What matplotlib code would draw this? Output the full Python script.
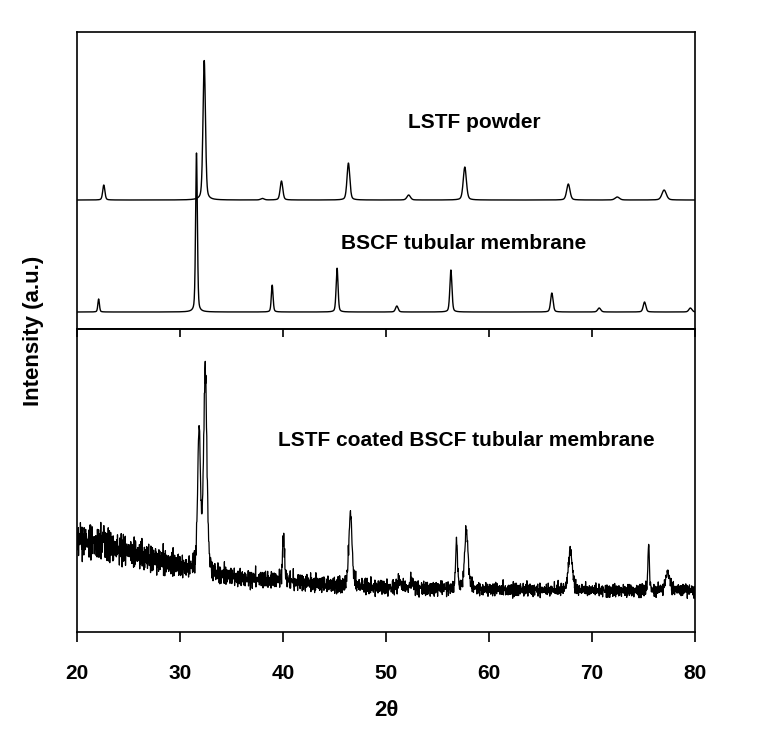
import numpy as np
import matplotlib
matplotlib.use('Agg')
import matplotlib.pyplot as plt

# 2theta grids of the scans
two_theta = np.arange(20, 80.001, 0.02)
two_theta_coat = np.arange(20, 80.001, 0.03)

# LSTF powder peaks (position, height, fwhm) - upper trace
lstf_pos = [22.6, 32.35, 38.0, 39.85, 46.35, 52.2, 57.65, 67.7, 72.45, 77.0]
lstf_height = [15, 140, 1.5, 19, 37, 5, 33, 16, 3, 10]
lstf_fwhm = [0.25, 0.28, 0.4, 0.3, 0.32, 0.4, 0.36, 0.38, 0.5, 0.5]
lstf_base = 129

# BSCF tubular membrane peaks - middle trace
bscf_pos = [22.1, 31.6, 38.95, 45.25, 51.05, 56.3, 66.1, 70.7, 75.1, 79.55]
bscf_height = [13, 159, 27, 44, 6, 42, 19, 4, 10, 4]
bscf_fwhm = [0.18, 0.2, 0.2, 0.22, 0.3, 0.24, 0.28, 0.35, 0.3, 0.35]
bscf_base = 17

# LSTF coated BSCF tubular membrane - lower trace
coat_pos = [22.6, 31.85, 32.45, 40.05, 46.55, 51.3, 52.5, 56.85, 57.8, 67.9, 75.5, 77.35]
coat_height = [18, 140, 200, 44, 74, 7, 7, 50, 58, 40, 48, 18]
coat_fwhm = [0.12, 0.32, 0.38, 0.22, 0.36, 0.3, 0.3, 0.2, 0.4, 0.45, 0.16, 0.5]
coat_bg_x = [20, 22, 25, 28, 31, 33, 36, 40, 45, 50, 55, 60, 70, 80]
coat_bg_y = [92, 88, 79, 70, 62, 57, 53, 51, 46, 44, 43, 42, 41, 41]
coat_noise_x = [20, 25, 30, 35, 40, 50, 60, 70, 80]
coat_noise_amp = [14, 12, 10, 8, 7, 6, 5.5, 5, 5]
jitter_a = [0.3, -0.8, 0.5, -0.2, 0.9, -0.6, 0.1, -0.9, 0.7, -0.4, 0.2, 0.8, -0.7, 0.4, -0.1,
            -0.5, 0.6, -0.9, 0.3, 0.0, -0.3, 0.7, -0.6, 0.9, -0.2, 0.4, -0.8, 0.1, 0.5, -0.4,
            0.8, -0.1, -0.7, 0.6, -0.3, 0.2, -0.9, 0.4, 0.7, -0.5, 0.1, -0.6, 0.9, -0.2, 0.3,
            -0.8, 0.5, 0.0, -0.4, 0.6, -0.7, 0.2, 0.8, -0.3, -0.1, 0.7, -0.9, 0.4, -0.5, 0.3,
            0.6, -0.2, -0.8, 0.5, 0.1, -0.6, 0.9, -0.4, 0.2, -0.1, 0.7, -0.7, 0.3, 0.8, -0.5,
            0.0, -0.3, 0.6, -0.9, 0.4, -0.2, 0.5, -0.6, 0.1, 0.9, -0.8, 0.3, -0.4, 0.7, -0.1,
            0.2, -0.7, 0.6, -0.3, 0.8, -0.5, 0.4, -0.9, 0.1, 0.5, -0.2]
jitter_b = [0.2, 0.1, -0.3, 0.4, 0.0, -0.5, 0.3, 0.6, -0.2, 0.1, -0.4, 0.5, 1.2, -0.3, 0.2,
            -0.1, 0.4, -0.6, 0.0, 0.3, 0.5, -0.2, -0.4, 0.1, 0.7, -0.3, 0.2, -0.5, 0.4, 0.0,
            -0.2, 0.3, 0.9, -0.4, 0.1, -0.3, 0.5, -0.1, 0.2, -0.6, 0.3, 0.0, 0.4, -0.2, 1.0,
            -0.5, 0.2, 0.1, -0.3, 0.6, -0.1, 0.0, -0.4, 0.3, 0.5, -0.2, 0.1, -0.5, 0.4, 0.2,
            -0.3, 0.8, -0.1, 0.0, 0.3, -0.4, 0.2, 0.6, -0.2, -0.1, 0.4, -0.3, 0.1, 0.0, 0.5,
            -0.6, 0.3, 1.1, -0.2, 0.1, -0.4, 0.2, 0.0, 0.4, -0.3, 0.2, -0.1, 0.6, -0.5]


def pattern(x, pos, height, fwhm, eta=0.35):
    y = np.zeros_like(x)
    for c, h, f in zip(pos, height, fwhm):
        d = (x - c) / (f / 2)
        y += h * (eta / (1 + d ** 2) + (1 - eta) * np.exp(-np.log(2) * d ** 2))
    return y


lstf = lstf_base + pattern(two_theta, lstf_pos, lstf_height, lstf_fwhm)
bscf = bscf_base + pattern(two_theta, bscf_pos, bscf_height, bscf_fwhm)
n = two_theta_coat.size
noise = (np.resize(jitter_a, n) + np.resize(jitter_b, n)) * np.interp(two_theta_coat, coat_noise_x, coat_noise_amp)
coated = (np.interp(two_theta_coat, coat_bg_x, coat_bg_y) + noise
          + pattern(two_theta_coat, coat_pos, coat_height, coat_fwhm))

fig = plt.figure(figsize=(7.58, 7.52), dpi=100)
ax_top = fig.add_axes([0.1016, 0.5625, 0.8153, 0.3949])
ax_bot = fig.add_axes([0.1016, 0.1596, 0.8153, 0.4029])

bold = dict(fontweight='bold', family=['Liberation Sans', 'DejaVu Sans'])

ax_top.plot(two_theta, lstf, color='black', lw=1.0)
ax_top.plot(two_theta, bscf, color='black', lw=1.0)
ax_top.set_xlim(20, 80)
ax_top.set_ylim(0, 297)
ax_top.set_xticks([])
ax_top.set_yticks([])
ax_top.text(58.6, 207, 'LSTF powder', ha='center', va='center', fontsize=15, **bold)
ax_top.text(57.5, 86, 'BSCF tubular membrane', ha='center', va='center', fontsize=15, **bold)

ax_bot.plot(two_theta_coat, coated, color='black', lw=0.9)
ax_bot.set_xlim(20, 80)
ax_bot.set_ylim(0, 303)
ax_bot.set_yticks([])
ax_bot.set_xticks(range(20, 81, 10))
ax_bot.tick_params(axis='x', direction='out', length=7, width=1.2, pad=16)
for lab in ax_bot.get_xticklabels():
    lab.set_fontweight('bold')
    lab.set_fontsize(15)
    lab.set_family(['Liberation Sans Narrow', 'Liberation Sans'])
ax_bot.text(57.8, 191, 'LSTF coated BSCF tubular membrane', ha='center', va='center',
            fontsize=15, **bold)
sec = ax_bot.secondary_xaxis('top')
sec.set_xticks(range(20, 81, 10))
sec.tick_params(axis='x', direction='in', length=6, width=1.2, labeltop=False)

for ax in (ax_top, ax_bot):
    for sp in ax.spines.values():
        sp.set_linewidth(1.2)
sec.spines['top'].set_linewidth(1.2)

ax_bot.set_xlabel('2θ', fontsize=16, labelpad=12, **bold)
fig.text(0.044, 0.56, 'Intensity (a.u.)', rotation=90, ha='center', va='center',
         fontsize=16, **bold)

fig.savefig('out.png', dpi=100)
